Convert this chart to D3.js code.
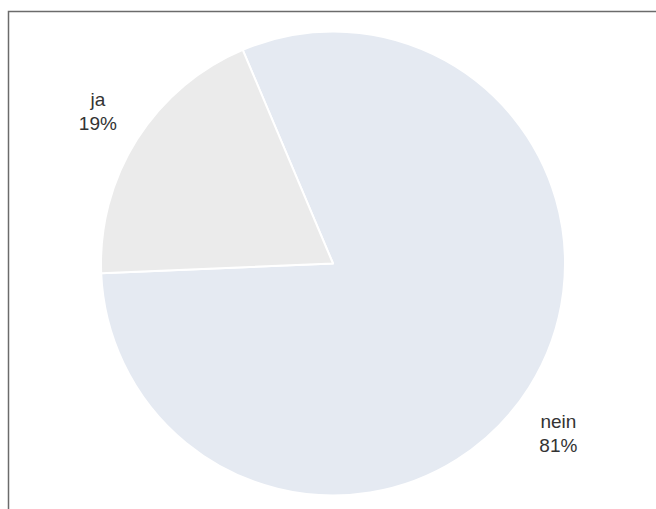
<!DOCTYPE html>
<html>
<head>
<meta charset="utf-8">
<script src="https://cdn.jsdelivr.net/npm/d3@7"></script>
<style>
  html, body { margin: 0; padding: 0; background: #fff; }
  svg { display: block; }
</style>
</head>
<body>
<svg id="chart" width="656" height="509"></svg>
<script>
const categories = ["nein", "ja"];
const values = [80.7, 19.3];
const labels = ["81%", "19%"];
const colors = ["#e5eaf2", "#ebebeb"];

const W = 656, H = 509;
const svg = d3.select("#chart");

// frame (extends beyond viewport on right/bottom)
svg.append("rect")
  .attr("x", 8.5).attr("y", 11.5)
  .attr("width", 700).attr("height", 600)
  .attr("fill", "none")
  .attr("stroke", "#6b6b6b")
  .attr("stroke-width", 1.5);

const cx = 333, cy = 263.5, r = 232;
const startOffset = -22.9 * Math.PI / 180;

const pie = d3.pie().sort(null).value(d => d)
  .startAngle(startOffset).endAngle(startOffset + 2 * Math.PI);
const arcs = pie(values);

const arc = d3.arc().innerRadius(0).outerRadius(r);
const labelArcUpper = d3.arc().innerRadius(r * 1.2).outerRadius(r * 1.2);
const labelArcLower = d3.arc().innerRadius(r * 1.15).outerRadius(r * 1.15);

const g = svg.append("g").attr("transform", `translate(${cx},${cy})`);

g.selectAll("path.slice").data(arcs).enter().append("path")
  .attr("class", "slice")
  .attr("d", arc)
  .attr("fill", (d, i) => colors[i])
  .attr("stroke", "#ffffff")
  .attr("stroke-width", 2)
  .attr("stroke-linejoin", "round");

function isLower(d) {
  const mid = (d.startAngle + d.endAngle) / 2;
  return -Math.cos(mid) > 0;
}

const lbl = g.selectAll("text.lbl").data(arcs).enter().append("text")
  .attr("class", "lbl")
  .attr("transform", d => {
    const c = (isLower(d) ? labelArcLower : labelArcUpper).centroid(d);
    return `translate(${c[0]},${c[1]})`;
  })
  .attr("text-anchor", "middle")
  .attr("font-family", "Liberation Sans, Arial, sans-serif")
  .attr("font-size", 19)
  .attr("fill", "#333333");

lbl.append("tspan").attr("x", 0)
  .attr("dy", d => isLower(d) ? "1.15em" : "-0.45em")
  .text((d, i) => categories[i]);
lbl.append("tspan").attr("x", 0).attr("dy", "1.25em").text((d, i) => labels[i]);
</script>
</body>
</html>
